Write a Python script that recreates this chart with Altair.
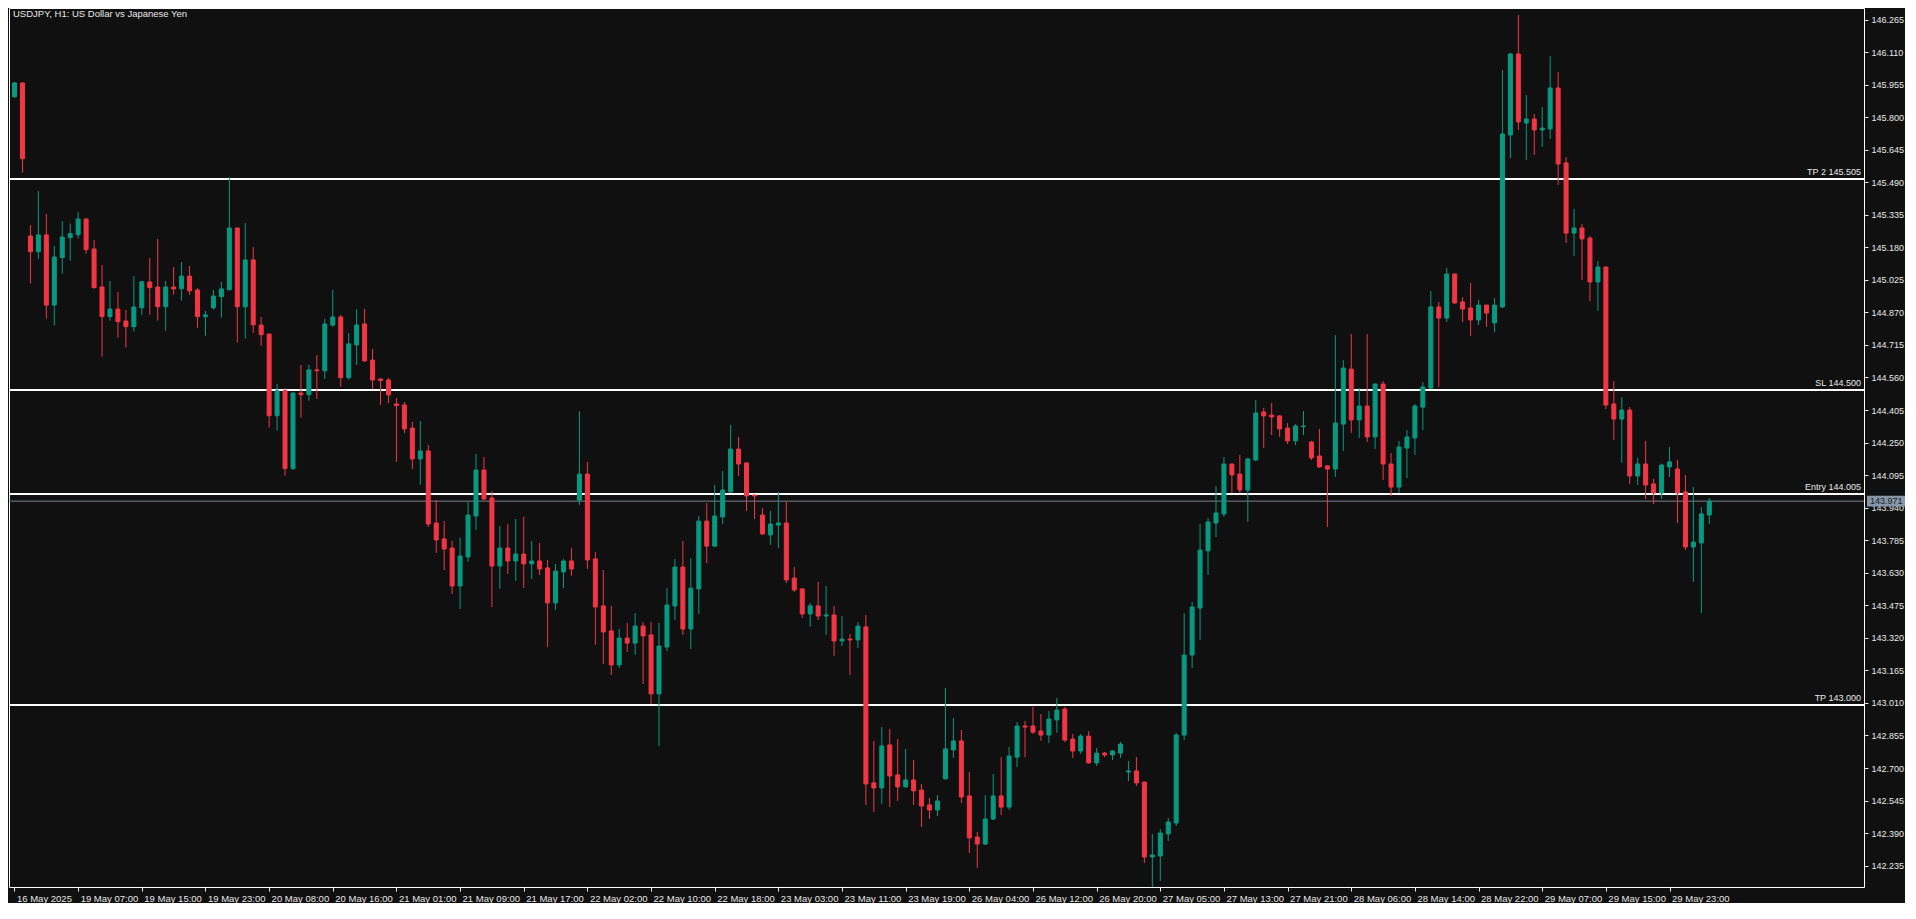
import altair as alt
import pandas as pd

# ---------------- data (USDJPY H1) ----------------
opens = [
    145.897, 145.963, 145.234, 145.159, 145.239, 144.905, 145.131, 145.226, 145.240, 145.315,
    145.172, 144.991, 144.850, 144.886, 144.829, 144.802, 144.892, 145.015, 144.991, 144.897,
    144.991, 144.983, 145.043, 144.977, 144.850, 144.892, 144.945, 144.978, 145.272, 144.897,
    145.120, 144.810, 144.767, 144.378, 144.497, 144.126, 144.486, 144.478, 144.596, 144.592,
    144.810, 144.848, 144.559, 144.715, 144.815, 144.643, 144.553, 144.548, 144.434, 144.429,
    144.319, 144.172, 144.210, 143.867, 143.791, 143.748, 143.567, 143.705, 143.900, 144.119,
    143.986, 143.662, 143.748, 143.686, 143.719, 143.672, 143.686, 143.653, 143.486, 143.634,
    143.686, 143.976, 144.100, 143.696, 143.472, 143.353, 143.191, 143.319, 143.295, 143.376,
    143.334, 143.053, 143.276, 143.472, 143.657, 143.362, 143.553, 143.876, 143.757, 143.896,
    144.015, 144.219, 144.153, 144.000, 143.905, 143.810, 143.857, 143.867, 143.605, 143.553,
    143.434, 143.472, 143.424, 143.429, 143.305, 143.314, 143.310, 143.372, 142.629, 142.605,
    142.810, 142.667, 142.610, 142.643, 142.595, 142.524, 142.500, 142.648, 142.786, 142.829,
    142.567, 142.371, 142.338, 142.457, 142.567, 142.514, 142.752, 142.900, 142.900, 142.876,
    142.857, 142.929, 142.981, 142.838, 142.781, 142.852, 142.724, 142.771, 142.762, 142.771,
    142.681, 142.686, 142.633, 142.276, 142.281, 142.386, 142.438, 142.857, 143.238, 143.462,
    143.734, 143.867, 143.910, 144.148, 144.100, 144.024, 144.167, 144.396, 144.381, 144.377,
    144.319, 144.258, 144.326, 144.253, 144.186, 144.139, 144.124, 144.338, 144.600, 144.358,
    144.424, 144.277, 144.529, 144.148, 144.038, 144.224, 144.272, 144.419, 144.510, 144.896,
    144.843, 145.053, 144.920, 144.891, 144.834, 144.905, 144.820, 144.896, 145.715, 146.101,
    145.772, 145.791, 145.739, 145.744, 145.939, 145.582, 145.248, 145.272, 145.224, 145.015,
    145.086, 144.434, 144.362, 144.405, 144.091, 144.148, 144.053, 144.010, 144.134, 144.124,
    144.015, 143.753, 143.772, 143.905,
]
highs = [
    145.967, 145.965, 145.286, 145.448, 145.339, 145.186, 145.305, 145.293, 145.348, 145.317,
    145.215, 145.096, 145.020, 144.967, 144.882, 145.043, 145.020, 145.129, 145.220, 145.020,
    145.086, 145.110, 145.091, 144.986, 144.877, 144.977, 145.015, 145.515, 145.274, 145.296,
    145.182, 144.848, 144.769, 144.529, 144.510, 144.488, 144.620, 144.620, 144.667, 144.839,
    144.977, 144.858, 144.772, 144.886, 144.886, 144.696, 144.555, 144.558, 144.462, 144.443,
    144.348, 144.353, 144.238, 143.976, 143.876, 143.781, 143.796, 143.967, 144.196, 144.181,
    144.019, 143.853, 143.862, 143.886, 143.896, 143.781, 143.772, 143.691, 143.672, 143.696,
    143.748, 144.400, 144.158, 143.729, 143.643, 143.472, 143.362, 143.391, 143.438, 143.395,
    143.395, 143.391, 143.557, 143.696, 143.781, 143.700, 143.900, 143.962, 144.048, 144.115,
    144.334, 144.277, 144.155, 144.002, 143.938, 143.924, 144.015, 143.967, 143.657, 143.555,
    143.486, 143.586, 143.567, 143.472, 143.424, 143.338, 143.395, 143.429, 142.829, 142.895,
    142.886, 142.838, 142.791, 142.738, 142.624, 142.557, 142.571, 143.081, 142.938, 142.881,
    142.681, 142.395, 142.571, 142.671, 142.752, 142.800, 142.919, 142.924, 142.991, 142.957,
    142.971, 143.034, 142.991, 142.862, 142.862, 142.876, 142.795, 142.776, 142.786, 142.824,
    142.733, 142.752, 142.635, 142.386, 142.409, 142.462, 142.867, 143.438, 143.491, 143.862,
    143.891, 144.043, 144.181, 144.150, 144.191, 144.177, 144.453, 144.415, 144.439, 144.379,
    144.343, 144.338, 144.400, 144.258, 144.315, 144.141, 144.762, 144.643, 144.767, 144.510,
    144.767, 144.531, 144.543, 144.200, 144.258, 144.310, 144.434, 144.539, 144.972, 144.920,
    145.082, 145.055, 144.943, 145.010, 144.929, 144.907, 144.939, 146.025, 146.106, 146.287,
    145.905, 145.815, 145.848, 146.091, 146.015, 145.610, 145.363, 145.291, 145.234, 145.115,
    145.088, 144.543, 144.467, 144.419, 144.177, 144.258, 144.077, 144.150, 144.229, 144.167,
    144.096, 144.038, 143.943, 143.986,
]
lows = [
    145.891, 145.535, 145.007, 145.126, 144.840, 144.807, 145.054, 145.116, 145.221, 145.150,
    144.983, 144.659, 144.831, 144.750, 144.702, 144.778, 144.859, 144.859, 144.831, 144.783,
    144.954, 144.926, 144.954, 144.797, 144.759, 144.883, 144.845, 144.975, 144.726, 144.745,
    144.773, 144.711, 144.321, 144.307, 144.092, 144.120, 144.369, 144.450, 144.458, 144.553,
    144.801, 144.515, 144.550, 144.620, 144.634, 144.505, 144.429, 144.439, 144.158, 144.296,
    144.124, 144.048, 143.848, 143.724, 143.643, 143.529, 143.457, 143.681, 143.834, 143.979,
    143.467, 143.553, 143.624, 143.591, 143.557, 143.600, 143.619, 143.276, 143.453, 143.557,
    143.615, 143.953, 143.648, 143.286, 143.195, 143.143, 143.176, 143.253, 143.238, 143.100,
    143.005, 142.805, 143.257, 143.405, 143.334, 143.267, 143.434, 143.676, 143.753, 143.862,
    144.010, 144.091, 143.924, 143.886, 143.810, 143.762, 143.748, 143.581, 143.538, 143.415,
    143.372, 143.405, 143.334, 143.234, 143.281, 143.143, 143.272, 142.524, 142.490, 142.529,
    142.514, 142.543, 142.607, 142.524, 142.419, 142.457, 142.471, 142.645, 142.748, 142.533,
    142.295, 142.224, 142.333, 142.452, 142.476, 142.500, 142.705, 142.752, 142.862, 142.829,
    142.819, 142.867, 142.824, 142.748, 142.767, 142.722, 142.710, 142.752, 142.738, 142.748,
    142.638, 142.614, 142.248, 142.114, 142.162, 142.352, 142.424, 142.833, 143.176, 143.310,
    143.619, 143.800, 143.896, 144.010, 144.010, 143.872, 144.162, 144.224, 144.286, 144.277,
    144.243, 144.238, 144.286, 144.167, 144.129, 143.848, 144.086, 144.210, 144.296, 144.272,
    144.253, 144.219, 144.072, 143.996, 144.010, 144.081, 144.191, 144.310, 144.505, 144.515,
    144.824, 144.910, 144.824, 144.758, 144.810, 144.801, 144.777, 144.891, 145.605, 145.739,
    145.596, 145.620, 145.658, 145.696, 145.477, 145.201, 145.139, 145.024, 144.924, 144.877,
    144.410, 144.262, 144.153, 144.053, 144.048, 143.981, 143.957, 143.981, 144.086, 143.867,
    143.738, 143.586, 143.438, 143.862,
]
closes = [
    145.963, 145.602, 145.159, 145.239, 144.905, 145.134, 145.229, 145.245, 145.315, 145.169,
    144.988, 144.850, 144.886, 144.826, 144.802, 144.896, 145.016, 144.988, 144.897, 144.991,
    144.982, 145.043, 144.973, 144.850, 144.858, 144.948, 144.982, 145.272, 144.897, 145.120,
    144.811, 144.764, 144.378, 144.497, 144.126, 144.486, 144.478, 144.596, 144.592, 144.815,
    144.848, 144.559, 144.720, 144.810, 144.639, 144.548, 144.545, 144.477, 144.426, 144.315,
    144.172, 144.210, 143.862, 143.786, 143.743, 143.567, 143.710, 143.905, 144.119, 143.981,
    143.662, 143.748, 143.686, 143.719, 143.672, 143.686, 143.648, 143.486, 143.638, 143.686,
    143.648, 144.100, 143.691, 143.467, 143.348, 143.191, 143.319, 143.295, 143.376, 143.329,
    143.053, 143.281, 143.476, 143.657, 143.362, 143.557, 143.876, 143.757, 143.900, 144.024,
    144.219, 144.148, 143.996, 143.996, 143.815, 143.862, 143.867, 143.596, 143.548, 143.434,
    143.472, 143.424, 143.429, 143.305, 143.314, 143.310, 143.376, 142.624, 142.605, 142.805,
    142.662, 142.610, 142.643, 142.591, 142.519, 142.500, 142.543, 142.791, 142.829, 142.562,
    142.367, 142.338, 142.457, 142.567, 142.514, 142.757, 142.900, 142.895, 142.871, 142.857,
    142.933, 142.976, 142.833, 142.781, 142.852, 142.724, 142.771, 142.762, 142.781, 142.814,
    142.686, 142.629, 142.276, 142.286, 142.390, 142.443, 142.857, 143.238, 143.467, 143.738,
    143.872, 143.915, 144.148, 144.096, 144.024, 144.172, 144.391, 144.377, 144.372, 144.315,
    144.258, 144.329, 144.329, 144.177, 144.134, 144.124, 144.343, 144.605, 144.358, 144.424,
    144.277, 144.529, 144.148, 144.038, 144.229, 144.277, 144.424, 144.515, 144.896, 144.843,
    145.053, 144.915, 144.886, 144.834, 144.905, 144.867, 144.905, 145.720, 146.101, 145.777,
    145.791, 145.739, 145.748, 145.939, 145.577, 145.248, 145.272, 145.220, 145.015, 145.086,
    144.429, 144.362, 144.405, 144.091, 144.148, 144.048, 144.010, 144.143, 144.158, 144.010,
    143.753, 143.776, 143.910, 143.971,
]

x_labels = [
    "16 May 2025", "19 May 07:00", "19 May 15:00", "19 May 23:00", "20 May 08:00",
    "20 May 16:00", "21 May 01:00", "21 May 09:00", "21 May 17:00", "22 May 02:00",
    "22 May 10:00", "22 May 18:00", "23 May 03:00", "23 May 11:00", "23 May 19:00",
    "26 May 04:00", "26 May 12:00", "26 May 20:00", "27 May 05:00", "27 May 13:00",
    "27 May 21:00", "28 May 06:00", "28 May 14:00", "28 May 22:00", "29 May 07:00",
    "29 May 15:00", "29 May 23:00",
]
bars_per_label = 8

y_ticks = [
    142.235, 142.390, 142.545, 142.700, 142.855, 143.010, 143.165, 143.320, 143.475,
    143.630, 143.785, 143.940, 144.095, 144.250, 144.405, 144.560, 144.715, 144.870,
    145.025, 145.180, 145.335, 145.490, 145.645, 145.800, 145.955, 146.110, 146.265,
]

level_prices = [145.505, 144.500, 144.005, 143.000]
level_labels = ["TP 2 145.505", "SL 144.500", "Entry 144.005", "TP 143.000"]
bid_price = [143.971]
title_text = ["USDJPY, H1:  US Dollar vs Japanese Yen"]

# ---------------- styling ----------------
W, H = 1855, 879
BG = "#101010"
UP = "#089981"
DN = "#F23645"
FG = "#e8e8e8"
FONT = "Liberation Sans"
Y_DOMAIN = [142.1332, 146.3199]
X_DOMAIN = [-0.0625, 231.8125]

df = pd.DataFrame({
    "idx": list(range(len(opens))),
    "open": opens, "high": highs, "low": lows, "close": closes,
})
lv = pd.DataFrame({"price": level_prices, "label": level_labels})
bid = pd.DataFrame({"price": bid_price, "txt": [f"{p:.3f}" for p in bid_price]})
ttl = pd.DataFrame({"t": title_text})

label_arr = "[" + ",".join("'" + s + "'" for s in x_labels) + "]"
x_scale = alt.Scale(domain=X_DOMAIN, nice=False, zero=False)
y_scale = alt.Scale(domain=Y_DOMAIN, nice=False, zero=False)
x_axis = alt.Axis(
    orient="bottom", title=None,
    values=[bars_per_label * k for k in range(len(x_labels))],
    labelExpr=f"{label_arr}[round(datum.value / {bars_per_label})]",
    labelAlign="left", labelBaseline="top", labelOffset=2, labelPadding=2,
    labelOverlap=False, labelFlush=False, tickSize=4, grid=False, domain=False,
    labelColor=FG, tickColor=FG, labelFont=FONT, labelFontSize=9.5,
)
y_axis = alt.Axis(
    orient="right", title=None, values=y_ticks, format=".3f",
    labelBaseline="middle", labelPadding=3, labelOverlap=False, labelFlush=False,
    tickSize=4, grid=False, domain=False,
    labelColor=FG, tickColor=FG, labelFont=FONT, labelFontSize=9,
)

X = alt.X("idx:Q", scale=x_scale, axis=x_axis)
dir_color = alt.condition("datum.close >= datum.open", alt.value(UP), alt.value(DN))

wicks = alt.Chart(df).mark_rule(strokeWidth=1, clip=True).encode(
    x=X,
    y=alt.Y("low:Q", scale=y_scale, axis=y_axis),
    y2="high:Q",
    color=dir_color,
)
bodies = alt.Chart(df).mark_bar(size=4, strokeWidth=1, clip=True).encode(
    x=X,
    y=alt.Y("open:Q", scale=y_scale, axis=y_axis),
    y2="close:Q",
    fill=dir_color,
    stroke=dir_color,
)

bid_line = alt.Chart(bid).mark_rule(color="#76828f", strokeWidth=1).encode(
    y=alt.Y("price:Q", scale=y_scale, axis=y_axis),
)
level_lines = alt.Chart(lv).mark_rule(color="#ffffff", strokeWidth=2).encode(
    y=alt.Y("price:Q", scale=y_scale, axis=y_axis),
)
level_text = alt.Chart(lv).mark_text(
    align="right", baseline="bottom", dy=-2, font=FONT, fontSize=9, color=FG
).encode(
    x=alt.value(W - 3),
    y=alt.Y("price:Q", scale=y_scale, axis=y_axis),
    text="label:N",
)

bid_tag = alt.Chart(bid).transform_calculate(
    top="datum.price + 0.026", bot="datum.price - 0.026"
).mark_rect(fill="#8596a8", clip=False).encode(
    x=alt.value(W + 3), x2=alt.value(W + 41),
    y=alt.Y("top:Q", scale=y_scale, axis=y_axis),
    y2="bot:Q",
)
bid_text = alt.Chart(bid).mark_text(
    align="left", baseline="middle", font=FONT, fontSize=9, color="#1a1f26"
).encode(
    x=alt.value(W + 6),
    y=alt.Y("price:Q", scale=y_scale, axis=y_axis),
    text="txt:N",
)

title = alt.Chart(ttl).mark_text(
    align="left", baseline="top", font=FONT, fontSize=9.5, color=FG
).encode(x=alt.value(4), y=alt.value(1), text="t:N")

chart = alt.layer(
    level_lines, bid_line, wicks, bodies, level_text, bid_tag, bid_text, title
).properties(
    width=W, height=H, padding={"left": 0, "top": 0, "right": 0, "bottom": 0},
    background=BG,
).configure_view(
    stroke="#ffffff", strokeWidth=1, fill=BG,
)

chart.save("out.html", embed_options={"renderer": "svg", "actions": False})
